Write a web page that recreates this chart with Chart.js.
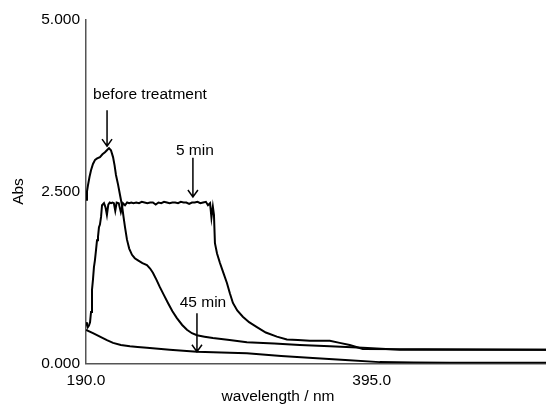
<!DOCTYPE html>
<html>
<head>
<meta charset="utf-8">
<script src="https://cdn.jsdelivr.net/npm/chart.js@4.4.1/dist/chart.umd.min.js"></script>
<style>
  body { margin: 0; background: #fff; overflow: hidden; }
</style>
</head>
<body>
<canvas id="spec" width="546" height="409"></canvas>
<script>
// wavelength (nm) / absorbance
const beforeX = [190, 190.7, 191.4, 192.5, 193.6, 195, 196.5, 198, 200, 201.8, 203.6, 205, 206.5, 207.9, 209.4, 210.5, 211.5, 213, 214.4, 215.8, 217, 218, 219.4, 221, 223, 225, 227.3, 230.5, 233.7, 236, 238, 240.5, 243, 246, 248.8, 252, 255.2, 259, 262.4, 266, 269.6, 275, 281, 293, 305.4, 325, 343.4, 365, 388.6, 415, 520]
const beforeY = [2.38, 2.5, 2.59, 2.71, 2.81, 2.9, 2.96, 2.98, 3.0, 3.04, 3.07, 3.1, 3.13, 3.1, 3.0, 2.88, 2.74, 2.6, 2.45, 2.3, 2.12, 1.98, 1.8, 1.67, 1.58, 1.53, 1.5, 1.46, 1.43, 1.38, 1.32, 1.22, 1.11, 0.99, 0.88, 0.76, 0.66, 0.56, 0.49, 0.44, 0.41, 0.39, 0.37, 0.34, 0.31, 0.29, 0.27, 0.25, 0.23, 0.2, 0.2]

const fiveX = [190, 190.7, 191.4, 192.1, 192.9, 193.6, 194.3, 195, 195.7, 196.4, 197.2, 197.9, 198.6, 199.3, 200, 200.8, 201.5,
  202.9, 204, 205, 206, 207, 208, 209, 210, 211, 212, 213.5, 215, 216.5, 218, 219.5, 221, 222.5, 224,
  226, 228, 230, 232, 234, 236, 238, 240, 242, 244, 246, 248, 250, 252, 254, 256, 258, 260, 262, 264,
  266, 268, 270, 272, 274, 276, 277.5, 279, 280, 281,
  281.8, 282.5, 284, 286.1, 288.5, 291.1, 293.2, 295.4, 298.5, 302.5, 307, 312.6, 319, 326.9, 334.1, 342, 350.6, 364.9, 372, 379.2, 388.6, 520]
const fiveY = [0.6, 0.56, 0.53, 0.55, 0.6, 0.75, 1.07, 1.22, 1.4, 1.5, 1.65, 1.79, 1.84, 1.98, 2.02, 2.13, 2.3,
  2.33, 2.27, 2.16, 2.31, 2.34, 2.33, 2.34, 2.33, 2.22, 2.34, 2.33, 2.2, 2.33, 2.3, 2.34, 2.33, 2.34, 2.33,
  2.34, 2.33, 2.35, 2.34, 2.33, 2.34, 2.34, 2.31, 2.34, 2.33, 2.35, 2.34, 2.33, 2.34, 2.34, 2.33, 2.35, 2.34, 2.34, 2.32,
  2.34, 2.34, 2.35, 2.33, 2.34, 2.35, 2.3, 2.33, 2.12, 2.28,
  2.16, 1.75, 1.6, 1.46, 1.32, 1.17, 1.02, 0.88, 0.77, 0.68, 0.6, 0.53, 0.45, 0.39, 0.35, 0.34, 0.33, 0.33, 0.3, 0.27, 0.21, 0.2]

const fortyFiveX = [190, 195, 200, 205, 209.4, 215, 221.5, 227, 233.7, 250, 269.6, 287, 305.4, 330, 352.7, 376, 400.7, 425, 451, 520]
const fortyFiveY = [0.49, 0.44, 0.39, 0.34, 0.3, 0.27, 0.25, 0.24, 0.23, 0.2, 0.17, 0.16, 0.15, 0.11, 0.08, 0.05, 0.02, 0.015, 0.01, 0.01]

const xTicks = [190, 395]
const yTicks = [0, 2.5, 5]

// labels with arrows: text position, arrow x, arrow from / to
const notes = [
  { text: 'before treatment', tx: 235.9, ty: 3.9, ax: 205.1, y0: 3.68, y1: 3.16 },
  { text: '5 min', tx: 268.1, ty: 3.1, ax: 266.7, y0: 2.99, y1: 2.42 },
  { text: '45 min', tx: 273.9, ty: 0.88, ax: 269.6, y0: 0.73, y1: 0.17 }
]

const FONT = '"Liberation Sans", Arial, sans-serif'

function pts(xs, ys) {
  return xs.map((x, i) => ({ x: x, y: ys[i] }))
}

function line(xs, ys) {
  return {
    data: pts(xs, ys),
    showLine: true,
    borderColor: '#000',
    borderWidth: 2,
    pointRadius: 0,
    tension: 0
  }
}

const notePlugin = {
  id: 'notes',
  afterDraw(chart) {
    const ctx = chart.ctx
    const xs = chart.scales.x
    const ys = chart.scales.y
    ctx.save()
    ctx.fillStyle = '#000'
    ctx.strokeStyle = '#000'
    ctx.lineWidth = 1.5
    ctx.font = '15.5px ' + FONT
    ctx.textAlign = 'center'
    ctx.textBaseline = 'middle'
    notes.forEach((n) => {
      ctx.fillText(n.text, xs.getPixelForValue(n.tx), ys.getPixelForValue(n.ty))
      const ax = xs.getPixelForValue(n.ax)
      const a0 = ys.getPixelForValue(n.y0)
      const a1 = ys.getPixelForValue(n.y1)
      ctx.beginPath()
      ctx.moveTo(ax, a0)
      ctx.lineTo(ax, a1)
      ctx.moveTo(ax - 5, a1 - 7)
      ctx.lineTo(ax, a1)
      ctx.lineTo(ax + 5, a1 - 7)
      ctx.stroke()
    })
    // x axis title sits left of the plot centre in the original
    ctx.fillText('wavelength / nm', 278, 397)
    ctx.restore()
  }
}

new Chart(document.getElementById('spec'), {
  type: 'scatter',
  data: {
    datasets: [line(beforeX, beforeY), line(fiveX, fiveY), line(fortyFiveX, fortyFiveY)]
  },
  options: {
    responsive: false,
    animation: false,
    layout: { padding: { top: 19.5, right: 0, bottom: 0, left: 0 } },
    plugins: { legend: { display: false }, tooltip: { enabled: false } },
    scales: {
      x: {
        type: 'linear',
        min: 190,
        max: 520,
        afterBuildTicks: (s) => { s.ticks = xTicks.map((v) => ({ value: v })) },
        afterFit: (s) => { s.height = 45.5 },
        grid: { display: false, drawTicks: false },
        border: { display: true, color: '#555', width: 1.5 },
        ticks: {
          color: '#000',
          padding: 8,
          maxRotation: 0,
          font: { family: FONT, size: 15.5 },
          callback: (v) => Number(v).toFixed(1)
        }
      },
      y: {
        min: 0,
        max: 5,
        afterBuildTicks: (s) => { s.ticks = yTicks.map((v) => ({ value: v })) },
        afterFit: (s) => { s.width = 86 },
        grid: { display: false, drawTicks: false },
        border: { display: true, color: '#555', width: 1.5 },
        title: {
          display: true,
          text: 'Abs',
          color: '#000',
          padding: { top: 9, bottom: 0 },
          font: { family: FONT, size: 15.5 }
        },
        ticks: {
          color: '#000',
          padding: 6,
          font: { family: FONT, size: 15.5 },
          callback: (v) => Number(v).toFixed(3)
        }
      }
    }
  },
  plugins: [notePlugin]
})
</script>
</body>
</html>
